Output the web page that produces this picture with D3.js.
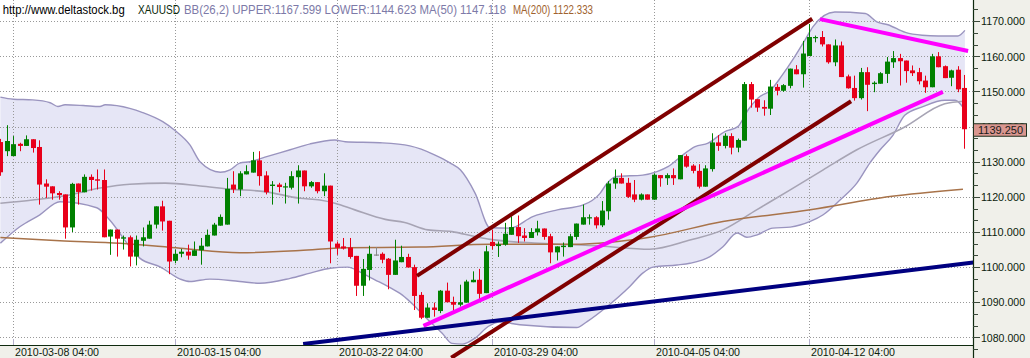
<!DOCTYPE html>
<html><head><meta charset="utf-8">
<script src="https://cdn.jsdelivr.net/npm/d3@7"></script>
<style>html,body{margin:0;padding:0;background:#fff;overflow:hidden}</style>
</head><body>
<svg id="c" width="1030" height="358"></svg>
<script>
// ---- DATA (4-hour candles, index 0..149) ----
const opens=[1135.6,1133.0,1131.6,1135.1,1134.5,1136.4,1134.2,1123.8,1123.0,1121.1,
1120.7,1111.3,1123.8,1121.3,1125.7,1125.0,1124.8,1108.7,1110.7,1108.1,
1108.5,1103.0,1107.5,1108.1,1112.1,1117.3,1113.2,1101.8,1103.8,1104.4,
1103.2,1104.8,1105.9,1109.0,1111.8,1112.1,1123.5,1122.1,1126.4,1126.9,
1130.4,1126.1,1123.1,1123.5,1122.7,1122.6,1125.6,1127.5,1123.0,1124.2,
1121.6,1123.2,1106.7,1105.9,1105.6,1103.2,1094.7,1099.2,1103.6,1103.8,
1102.4,1097.8,1101.4,1102.9,1100.0,1092.1,1085.6,1088.5,1087.5,1093.3,
1090.1,1089.3,1089.9,1095.7,1096.4,1092.6,1107.2,1106.0,1106.4,1109.2,
1111.4,1109.0,1108.3,1109.9,1111.0,1108.8,1104.2,1105.7,1105.7,1108.6,
1112.1,1113.9,1114.2,1111.9,1115.9,1123.8,1125.4,1124.0,1120.7,1119.2,
1120.7,1119.2,1126.2,1125.3,1126.2,1125.0,1131.6,1128.9,1127.4,1122.9,
1127.9,1135.5,1134.5,1137.3,1134.0,1136.0,1152.1,1147.8,1145.6,1145.1,
1151.3,1150.2,1151.6,1156.3,1154.9,1160.1,1165.3,1165.5,1163.4,1158.3,
1163.1,1154.3,1151.0,1148.1,1155.5,1152.1,1152.2,1155.0,1158.3,1159.5,
1158.8,1156.0,1155.5,1153.1,1151.2,1160.0,1157.2,1153.9,1156.2,1151.0];
const highs=[1136.5,1140.4,1137.3,1135.4,1137.5,1136.4,1136.1,1125.0,1123.0,1121.6,
1120.7,1124.0,1123.8,1126.4,1126.4,1127.8,1127.8,1110.7,1110.7,1109.0,
1109.0,1109.0,1111.3,1113.2,1117.3,1118.9,1113.2,1105.0,1105.2,1106.4,
1107.3,1108.3,1110.7,1112.6,1115.0,1125.4,1127.3,1127.3,1129.0,1132.8,
1133.0,1127.3,1124.5,1124.0,1124.0,1127.3,1129.0,1127.5,1124.5,1124.2,
1126.7,1123.2,1107.3,1108.3,1108.3,1103.2,1102.3,1106.1,1105.7,1104.2,
1102.6,1107.8,1106.1,1103.8,1100.7,1092.9,1089.7,1089.9,1093.5,1095.6,
1091.6,1095.0,1096.4,1098.8,1099.5,1106.1,1110.7,1107.3,1112.6,1114.5,
1114.7,1111.1,1111.1,1113.2,1111.0,1109.5,1105.9,1107.0,1109.5,1112.4,
1117.8,1115.0,1114.5,1118.8,1124.5,1127.8,1126.7,1125.4,1124.8,1121.0,
1120.7,1126.7,1126.2,1126.7,1128.1,1131.9,1132.1,1129.3,1129.3,1129.0,
1138.1,1137.6,1138.1,1138.1,1136.6,1152.7,1152.7,1147.8,1147.5,1153.3,
1152.1,1152.1,1156.5,1157.5,1164.4,1169.2,1165.9,1167.2,1163.4,1164.8,
1164.2,1154.8,1154.5,1156.7,1156.9,1152.9,1155.5,1159.8,1161.5,1160.7,
1158.8,1157.4,1156.7,1154.5,1160.7,1161.2,1157.4,1156.2,1157.2,1154.7];
const lows=[1126.0,1131.6,1131.6,1133.0,1134.5,1132.6,1117.8,1119.7,1119.2,1119.2,
1108.1,1110.0,1117.8,1121.3,1121.8,1122.1,1108.5,1103.5,1103.0,1105.0,
1100.2,1100.5,1105.9,1108.1,1111.0,1110.4,1098.0,1101.1,1102.8,1102.1,
1103.2,1100.7,1105.9,1109.0,1111.8,1112.1,1121.1,1120.2,1126.4,1126.9,
1123.2,1120.7,1117.8,1121.3,1118.1,1122.1,1118.1,1121.6,1122.6,1121.0,
1120.2,1101.1,1103.5,1105.0,1102.4,1091.8,1091.8,1096.2,1103.2,1101.1,
1093.7,1097.8,1101.4,1099.9,1087.8,1085.2,1085.6,1085.9,1086.9,1090.0,
1086.9,1088.8,1089.9,1095.7,1090.9,1092.6,1105.0,1102.9,1106.1,1109.2,
1106.9,1107.3,1108.3,1109.0,1107.8,1101.1,1101.9,1103.0,1105.7,1107.8,
1112.1,1112.1,1111.0,1111.4,1113.5,1122.3,1123.8,1119.7,1118.5,1119.0,
1119.2,1119.2,1122.9,1123.4,1123.4,1125.0,1128.3,1126.7,1122.4,1122.9,
1127.2,1133.1,1133.8,1132.1,1132.7,1136.0,1145.4,1144.2,1143.1,1143.3,
1148.9,1149.9,1150.9,1154.9,1151.1,1160.1,1164.0,1162.8,1157.9,1157.2,
1154.1,1150.8,1147.4,1147.7,1144.4,1149.8,1152.2,1152.4,1156.7,1151.7,
1152.5,1154.4,1152.0,1149.6,1151.2,1156.9,1153.8,1151.5,1149.8,1133.7];
const closes=[1127.0,1135.9,1135.0,1134.5,1136.4,1133.9,1123.5,1122.9,1121.0,1120.5,
1111.3,1123.7,1121.4,1125.7,1124.8,1124.6,1108.5,1110.7,1108.1,1108.5,
1103.0,1107.8,1108.5,1112.1,1117.3,1113.0,1101.6,1103.8,1104.4,1103.3,
1104.8,1106.1,1109.2,1112.1,1114.3,1122.3,1122.1,1126.7,1127.3,1130.4,
1125.9,1121.3,1123.5,1122.8,1123.0,1125.9,1127.5,1123.0,1124.2,1121.6,
1123.2,1107.3,1105.5,1105.3,1102.9,1094.7,1099.5,1103.8,1103.6,1102.1,
1097.8,1101.9,1102.9,1099.9,1091.8,1085.6,1088.5,1087.8,1093.3,1090.0,
1089.3,1090.0,1095.9,1096.4,1092.4,1104.5,1106.0,1106.5,1109.5,1111.4,
1108.8,1108.3,1110.0,1111.0,1108.6,1104.2,1105.9,1106.1,1108.8,1112.4,
1114.2,1114.2,1111.9,1116.1,1123.8,1125.4,1123.8,1120.0,1119.2,1120.7,
1119.2,1126.3,1125.3,1126.2,1125.3,1131.9,1128.6,1127.4,1122.9,1128.1,
1135.5,1134.5,1137.4,1134.0,1136.2,1152.1,1147.7,1145.4,1145.1,1151.4,
1150.2,1151.8,1156.5,1154.9,1160.8,1165.5,1165.5,1163.4,1158.3,1163.1,
1154.1,1150.9,1148.1,1155.5,1151.9,1152.5,1155.2,1158.5,1159.5,1158.6,
1155.8,1155.2,1152.9,1151.2,1160.0,1156.9,1153.8,1156.0,1150.6,1139.25];

// indicator lines: [candle index, price]
const upperBand=[[0,1148.4],[2,1147.8],[5,1147.6],[7.7,1146.8],[8.9,1145.7],[10,1146.2],[12.8,1146.0],[15.4,1145.7],[16.2,1146.2],[20,1145.2],[22,1144.0],[25.1,1141.4],[27,1138.9],[29.3,1134.8],[30.9,1129.9],[34,1127.0],[35.5,1127.7],[37,1129.6],[38.6,1130.0],[40.9,1131.3],[44.8,1133.4],[47.9,1135.1],[51.7,1136.2],[53.3,1135.7],[58.7,1135.4],[63.3,1134.5],[67.2,1131.9],[69.5,1129.7],[71.1,1127.7],[73.4,1121.0],[75.7,1111.2],[78.8,1111.1],[82.3,1114.4],[86.1,1116.3],[90.1,1117.7],[92.7,1121.0],[93.8,1123.9],[95.3,1125.8],[99.3,1126.2],[101.5,1127.2],[103.2,1128.6],[105.2,1131.5],[107.4,1134.3],[109.4,1135.3],[112,1138.6],[114,1140.0],[115.6,1144.8],[117.1,1148.1],[119.1,1150.4],[120.7,1154.2],[122.8,1159.9],[124.4,1164.7],[125.6,1168.4],[129,1172.6],[133.7,1172.2],[135.5,1169.8],[137.2,1169.0],[139.9,1166.8],[142.5,1166.0],[145,1165.8],[148,1165.8],[149.1,1167.4]];
const lowerBand=[[0,1106.8],[3,1111.5],[6.1,1114.9],[9.2,1118.6],[14.9,1116.9],[16.9,1113.4],[20,1105.8],[21.6,1102.5],[24.7,1100.1],[27.8,1096.6],[29.3,1095.9],[32.4,1096.6],[37,1095.9],[40.1,1095.4],[44.8,1096.8],[47.9,1098.3],[51,1099.7],[53.7,1100.0],[55.9,1098.3],[57.9,1096.4],[59.9,1094.5],[62.1,1092.1],[64.1,1088.8],[66.1,1085.0],[68.3,1081.2],[69.8,1078.3],[71.4,1078.1],[73.4,1079.8],[75.4,1083.1],[77.2,1084.4],[80.3,1083.6],[89.1,1082.8],[90.7,1084.5],[93.8,1088.8],[97.3,1094.5],[99.3,1098.3],[100.9,1100.0],[104.6,1100.6],[106.6,1101.1],[109.7,1103.0],[111.7,1105.8],[113.9,1109.7],[115.4,1108.5],[117,1109.2],[119.4,1111.1],[122.1,1111.4],[125.2,1113.0],[127.2,1114.9],[129.8,1119.1],[132.4,1123.9],[134.4,1129.6],[136,1133.4],[138,1137.6],[139.8,1143.2],[142.5,1145.6],[146,1147.5],[147.6,1147.5],[149.1,1144.7]];
const ma50=[[0,1118.2],[5,1119.1],[10,1120.3],[15.4,1122.5],[20,1123.6],[25.5,1123.9],[30.9,1123.1],[35.5,1122.2],[40.9,1121.5],[46.3,1119.6],[49.4,1119.1],[51.7,1118.2],[54.8,1116.3],[59.5,1113.6],[62.5,1112.7],[66.1,1110.6],[69.8,1110.1],[73.4,1108.7],[75.7,1107.9],[83.4,1106.8],[92.7,1106.0],[100.4,1105.1],[106.6,1107.7],[111.7,1110.6],[116.9,1116.3],[122.1,1122.0],[127.2,1127.7],[132.4,1133.4],[139.8,1139.9],[146,1146.5],[149,1147.2]];
const ma200=[[0,1108.4],[9.2,1107.5],[18.5,1106.8],[27.8,1105.4],[37,1104.1],[46.3,1104.7],[53.3,1105.5],[64.9,1105.7],[75.7,1106.5],[88.5,1106.5],[100.4,1108.5],[111.7,1113.0],[125.2,1116.3],[137.5,1120.1],[148.8,1122.2]];

// hand-drawn trend lines: [candle index, price]
const channelUpper=[[64.4,1097.5],[125.5,1170.7]];
const channelLower=[[69.7,1074.2],[131.5,1147.2]];
const magentaSupport=[[65.4,1083.3],[145.7,1149.9]];
const magentaResist=[[126.7,1170.6],[149.6,1161.5]];
const navySupport=[[46.8,1078.1],[150.4,1101.3]];

const xTickIndex=[2,27,52,76,101,125];
const xTickLabels=["2010-03-08 04:00","2010-03-15 04:00","2010-03-22 04:00","2010-03-29 04:00","2010-04-05 04:00","2010-04-12 04:00"];
const yTicks=[1080,1090,1100,1110,1120,1130,1140,1150,1160,1170];
const lastPrice=1139.25;
const headerParts=[
 {t:"http://www.deltastock.bg",c:"#000000"},
 {t:"XAUUSD",c:"#0c2a0c"},
 {t:"BB(26,2) UPPER:1167.599 LOWER:1144.623 MA(50) 1147.118",c:"#7d7aa8"},
 {t:"MA(200) 1122.333",c:"#a0622e"}];

// ---- LAYOUT ----
const W=1030,H=358,plotR=973,plotB=345;
const svg=d3.select("#c");
const x=d3.scaleLinear().domain([0,149]).range([0.36,964.24]);
const y=d3.scaleLinear().domain([1080,1170]).range([337.4,21.2]);
const FONT="'Liberation Sans', Arial, sans-serif";

svg.append("rect").attr("x",0).attr("y",0).attr("width",W).attr("height",H).attr("fill","#ffffff");
svg.append("rect").attr("x",plotR).attr("y",0).attr("width",W-plotR).attr("height",H).attr("fill","#f0f0ea");
svg.append("rect").attr("x",0).attr("y",plotB).attr("width",plotR).attr("height",H-plotB).attr("fill","#f0f0ea");

svg.append("defs").append("clipPath").attr("id","plot").append("rect")
  .attr("x",0).attr("y",0).attr("width",plotR).attr("height",plotB);
const g=svg.append("g").attr("clip-path","url(#plot)");

// Bollinger band fill
const bandData=upperBand.map(d=>d); 
const curve=d3.curveMonotoneX;
const upperLine=d3.line().x(d=>x(d[0])).y(d=>y(d[1])).curve(curve);
const areaPath=(()=>{
  const up=upperLine(upperBand);
  const lowRev=d3.line().x(d=>x(d[0])).y(d=>y(d[1])).curve(curve)(lowerBand.slice().reverse());
  return up+"L"+lowRev.slice(1)+"Z";
})();
g.append("path").attr("d",areaPath).attr("fill","#e6e6f6");

// gridlines
g.selectAll("line.hg").data(yTicks).join("line")
  .attr("x1",0).attr("x2",plotR).attr("y1",d=>Math.round(y(d))+0.5).attr("y2",d=>Math.round(y(d))+0.5)
  .attr("stroke","#999999").attr("stroke-width",1).attr("stroke-dasharray","1,2");
g.selectAll("line.vg").data(xTickIndex).join("line")
  .attr("x1",d=>Math.round(x(d))+0.5).attr("x2",d=>Math.round(x(d))+0.5).attr("y1",0).attr("y2",339)
  .attr("stroke","#999999").attr("stroke-width",1).attr("stroke-dasharray","1,2");
g.selectAll("line.vt").data(xTickIndex).join("line")
  .attr("x1",d=>Math.round(x(d))+0.5).attr("x2",d=>Math.round(x(d))+0.5).attr("y1",339).attr("y2",plotB)
  .attr("stroke","#b4b0cc").attr("stroke-width",1);

// band edges and moving averages
const ln=d3.line().x(d=>x(d[0])).y(d=>y(d[1])).curve(curve);
g.append("path").attr("d",ln(upperBand)).attr("fill","none").attr("stroke","#9a94bf").attr("stroke-width",1.4);
g.append("path").attr("d",ln(lowerBand)).attr("fill","none").attr("stroke","#9a94bf").attr("stroke-width",1.4);
g.append("path").attr("d",ln(ma50)).attr("fill","none").attr("stroke","#a7a4b4").attr("stroke-width",1.6);
g.append("path").attr("d",ln(ma200)).attr("fill","none").attr("stroke","#a8734a").attr("stroke-width",1.5);

// candles
const idx=d3.range(opens.length);
const colorOf=i=>closes[i]>opens[i]?"#008000":(closes[i]<opens[i]?"#e8001a":"#8a8a8a");
const cg=g.append("g");
cg.selectAll("rect.w").data(idx).join("rect")
  .attr("x",i=>Math.round(x(i))).attr("width",1)
  .attr("y",i=>y(highs[i])).attr("height",i=>Math.max(1,y(lows[i])-y(highs[i])))
  .attr("fill",colorOf);
cg.selectAll("rect.b").data(idx).join("rect")
  .attr("x",i=>Math.round(x(i))-2).attr("width",5)
  .attr("y",i=>y(Math.max(opens[i],closes[i])))
  .attr("height",i=>Math.max(1.2,Math.abs(y(opens[i])-y(closes[i]))))
  .attr("fill",colorOf);

// trend lines (drawn over everything, not clipped)
const tl=svg.append("g");
[[channelUpper,"#800000"],[channelLower,"#800000"],[magentaSupport,"#ff00ff"],[magentaResist,"#ff00ff"],[navySupport,"#000080"]]
 .forEach(([pts,col])=>{
   tl.append("line").attr("x1",x(pts[0][0])).attr("y1",y(pts[0][1])).attr("x2",x(pts[1][0])).attr("y2",y(pts[1][1]))
     .attr("stroke",col).attr("stroke-width",4);
 });

// axes lines
svg.append("line").attr("x1",0).attr("x2",plotR).attr("y1",plotB+0.5).attr("y2",plotB+0.5).attr("stroke","#0f2a0f").attr("stroke-width",1.2);
svg.append("line").attr("x1",plotR+0.5).attr("x2",plotR+0.5).attr("y1",0).attr("y2",H).attr("stroke","#0f2a0f").attr("stroke-width",1.2);

// y axis ticks
const minor=d3.range(-1,31).map(k=>1080+k*10/3-10/3+10/3);
svg.selectAll("line.ymin").data(d3.range(-2,30).map(k=>1080+k*10/3)).join("line")
  .attr("x1",plotR).attr("x2",plotR+5).attr("y1",d=>Math.round(y(d))+0.5).attr("y2",d=>Math.round(y(d))+0.5)
  .attr("stroke","#3a4a3a").attr("stroke-width",1);
svg.selectAll("line.ymaj").data(yTicks).join("line")
  .attr("x1",plotR).attr("x2",plotR+7).attr("y1",d=>Math.round(y(d))+0.5).attr("y2",d=>Math.round(y(d))+0.5)
  .attr("stroke","#3a4a3a").attr("stroke-width",1);
svg.selectAll("text.yl").data(yTicks).join("text")
  .attr("x",981).attr("y",d=>y(d)+4.2)
  .attr("font-family",FONT).attr("font-size",11.5).attr("fill","#0c220c")
  .attr("textLength",44).attr("lengthAdjust","spacingAndGlyphs")
  .text(d=>d.toFixed(3));

// last price box
svg.append("rect").attr("x",973.5).attr("y",y(lastPrice)-5.5).attr("width",53).attr("height",12.5)
  .attr("fill","#d9968f").attr("stroke","#1e301e").attr("stroke-width",1);
svg.append("text").attr("x",978).attr("y",y(lastPrice)+4.5)
  .attr("font-family",FONT).attr("font-size",11.5).attr("fill","#1a1a1a")
  .attr("textLength",45).attr("lengthAdjust","spacingAndGlyphs").text(lastPrice.toFixed(3));

// x labels
svg.selectAll("text.xl").data(xTickIndex).join("text")
  .attr("x",d=>Math.round(x(d))+2).attr("y",355.6)
  .attr("font-family",FONT).attr("font-size",11.5).attr("fill","#0c220c")
  .attr("textLength",84).attr("lengthAdjust","spacingAndGlyphs")
  .text((d,i)=>xTickLabels[i]);

// header
const hx=[2.7,138,184,513], hw=[122,42,322,80];
headerParts.forEach((p,i)=>{
  svg.append("text").attr("x",hx[i]).attr("y",14).attr("font-family",FONT).attr("font-size",12)
    .attr("fill",p.c).attr("textLength",hw[i]).attr("lengthAdjust","spacingAndGlyphs").text(p.t);
});
</script>
</body></html>
